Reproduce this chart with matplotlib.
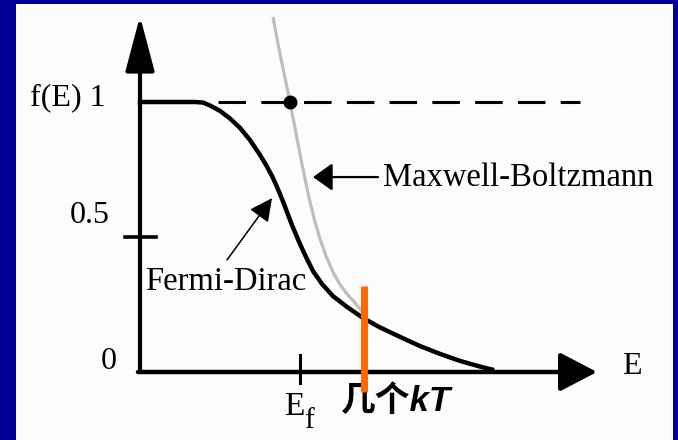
import matplotlib
matplotlib.use("Agg")
import matplotlib.pyplot as plt

# Fermi-Dirac occupancy (energy in units of kT, measured from the f-axis)
fd_energy = [0.0, 0.875, 1.375, 1.575, 1.75, 2.0, 2.25, 2.5, 2.75, 3.0, 3.15,
             3.3, 3.4, 3.5, 3.6, 3.7, 3.8, 3.925, 4.0, 4.15, 4.325, 4.55,
             4.825, 5.175, 5.575, 6.0, 6.5, 7.0, 7.5, 8.0, 8.5, 8.8]
fd_occupancy = [1.0, 1.0, 1.0, 0.998, 0.987, 0.967, 0.939, 0.904, 0.859,
                0.804, 0.767, 0.726, 0.694, 0.659, 0.622, 0.583, 0.544, 0.5,
                0.474, 0.426, 0.374, 0.326, 0.281, 0.241, 0.2, 0.165, 0.130,
                0.096, 0.067, 0.041, 0.020, 0.009]

# Maxwell-Boltzmann approximation, merging into the Fermi-Dirac tail
mb_energy = [3.325, 3.475, 3.625, 3.75, 3.875, 4.0, 4.125, 4.25, 4.375, 4.5,
             4.65, 4.825, 5.0, 5.175, 5.375, 5.525, 5.675]
mb_occupancy = [1.315, 1.196, 1.089, 1.0, 0.904, 0.807, 0.715, 0.630, 0.556,
                0.493, 0.430, 0.370, 0.324, 0.289, 0.256, 0.230, 0.204]

crossing_energy, crossing_occupancy = 3.75, 1.0
fermi_level = 4.0
few_kT_energy = 5.6
y_tick_values = [0.0, 0.5, 1.0]
y_tick_labels = ["0", "0.5", "f(E) 1"]

SERIF = "Liberation Serif"

fig = plt.figure(figsize=(6.78, 4.40), dpi=100, facecolor="#000099")
ax = fig.add_axes([16 / 678, 0, 657 / 678, 436 / 440])
ax.set_facecolor("#FCFCFC")
for s in ax.spines.values():
    s.set_visible(False)
ax.set_xticks([])
ax.set_yticks([])
ax.set_xlim(-3.1, 13.325)
ax.set_ylim(-0.2519, 1.363)

x_max, y_max = 11.425, 1.318

# axes with arrow heads
ax.annotate("", xy=(0, y_max), xytext=(0, 0),
            arrowprops=dict(arrowstyle="-|>,head_length=34,head_width=9",
                            mutation_scale=1, lw=3, color="black",
                            shrinkA=0, shrinkB=0))
ax.annotate("", xy=(x_max, 0), xytext=(-0.05, 0),
            arrowprops=dict(arrowstyle="-|>,head_length=23,head_width=12",
                            mutation_scale=1, lw=3.2, color="black",
                            shrinkA=0, shrinkB=0))

# f = 1 reference level
ax.plot([1.95, 11.0], [1.0, 1.0], color="black", lw=2.2,
        dashes=(9, 5), solid_capstyle="butt", dash_capstyle="butt")

# curves
ax.plot(mb_energy, mb_occupancy, color="#BEBEBE", lw=2.3,
        solid_capstyle="butt", solid_joinstyle="round", zorder=3)
ax.plot(fd_energy, fd_occupancy, color="black", lw=3.2,
        solid_joinstyle="round", zorder=4)
ax.plot([crossing_energy], [crossing_occupancy], "o", color="black",
        ms=9, zorder=5)

# ticks
ax.plot([-0.375, 0.4], [0.5, 0.5], color="black", lw=2.6)
ax.plot([fermi_level, fermi_level], [-0.041, 0.063], color="black", lw=2.2)

# several kT marker
ax.plot([few_kT_energy, few_kT_energy], [-0.074, 0.3185],
        color="#FF6600", lw=5, solid_capstyle="butt", zorder=6)

# tick labels
label_pos = {0.0: (-0.575, 0.04), 0.5: (-0.75, 0.578), 1.0: (-0.875, 1.015)}
for v, lab in zip(y_tick_values, y_tick_labels):
    lx, ly = label_pos[v]
    ax.text(lx, ly, lab, ha="right", va="center", family=SERIF, fontsize=23)

ax.text(12.05, 0.02, "E", ha="left", va="center", family=SERIF, fontsize=23)
# Fermi level label: E with subscript f
ax.text(fermi_level + 0.1, -0.072, "E", ha="right", va="top",
        family=SERIF, fontsize=24)
ax.text(fermi_level + 0.1, -0.135, "f", ha="left", va="top",
        family=SERIF, fontsize=21)
ax.text(5.0, -0.108, "几个kT", ha="left", va="center",
        family=["Liberation Sans", "Noto Sans CJK SC"], fontweight="bold",
        fontstyle="italic", fontsize=25)

# curve labels with pointers
ax.text(6.075, 0.72, "Maxwell-Boltzmann", ha="left", va="center",
        family=SERIF, fontsize=23.5)
ax.annotate("", xy=(4.325, 0.722), xytext=(5.95, 0.722),
            arrowprops=dict(arrowstyle="-|>,head_length=12,head_width=8.5",
                            mutation_scale=1, lw=1.6, color="black",
                            shrinkA=0, shrinkB=0))
ax.text(0.125, 0.333, "Fermi-Dirac", ha="left", va="center",
        family=SERIF, fontsize=23.5)
ax.annotate("", xy=(3.3, 0.644), xytext=(2.175, 0.415),
            arrowprops=dict(arrowstyle="-|>,head_length=14,head_width=7",
                            mutation_scale=1, lw=1.1, color="black",
                            shrinkA=0, shrinkB=0))

fig.savefig("out.png", dpi=100, facecolor=fig.get_facecolor())
